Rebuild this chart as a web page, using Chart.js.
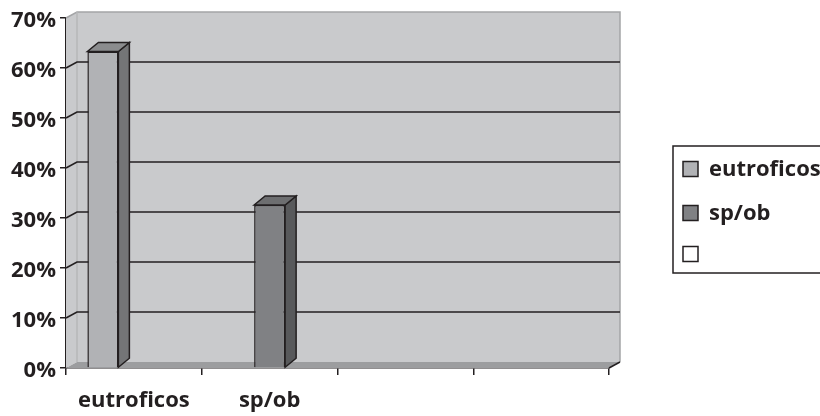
<!DOCTYPE html>
<html>
<head>
<meta charset="utf-8">
<script src="https://cdn.jsdelivr.net/npm/chart.js@4/dist/chart.umd.min.js"></script>
<style>
  html, body { margin: 0; padding: 0; background: #fff; overflow: hidden; }
  #wrap { width: 820px; height: 416px; position: relative; }
</style>
</head>
<body>
<div id="wrap"><canvas id="c" width="820" height="416"></canvas></div>
<script>
// Categories along the x axis (the last two are empty slots)
const categories = ['eutroficos', 'sp/ob', '', ''];
// Series names, as shown in the legend
const seriesNames = ['eutroficos', 'sp/ob', ''];
// Series values in percent
const eutroficosValues = [63.3, null, null, null];
const spobValues = [null, 32.6, null, null];
const blankValues = [null, null, null, null];
// Value axis ticks in percent
const yTickValues = [0, 10, 20, 30, 40, 50, 60, 70];

const INK = '#231f20';
const FONT = { family: '"Open Sans", "DejaVu Sans", sans-serif', size: 22, weight: 'bold' };

// Back wall, floor and the depth faces of the columns
const depth3d = {
  id: 'depth3d',
  beforeDatasetsDraw(chart, args, o) {
    const { ctx, chartArea: a, scales: { y } } = chart;
    const dx = o.wallDx, dy = o.wallDy;
    ctx.save();
    // left side wall
    ctx.fillStyle = o.wallColor;
    ctx.beginPath();
    ctx.moveTo(a.left, a.top);
    ctx.lineTo(a.left + dx, a.top + dy);
    ctx.lineTo(a.left + dx, a.bottom + dy);
    ctx.lineTo(a.left, a.bottom);
    ctx.closePath();
    ctx.fill();
    // back wall
    ctx.fillRect(a.left + dx, a.top + dy, a.right - a.left, a.bottom - a.top);
    // wall outline
    ctx.strokeStyle = o.edgeColor;
    ctx.lineWidth = 1.5;
    ctx.beginPath();
    ctx.moveTo(a.left, a.top);
    ctx.lineTo(a.left + dx, a.top + dy);
    ctx.lineTo(a.right + dx, a.top + dy);
    ctx.lineTo(a.right + dx, a.bottom + dy);
    ctx.stroke();
    ctx.strokeStyle = o.innerEdgeColor;
    ctx.beginPath();
    ctx.moveTo(a.left + dx, a.top + dy);
    ctx.lineTo(a.left + dx, a.bottom + dy);
    ctx.stroke();
    // floor
    ctx.fillStyle = o.floorColor;
    ctx.beginPath();
    ctx.moveTo(a.left, a.bottom);
    ctx.lineTo(a.left + dx, a.bottom + dy);
    ctx.lineTo(a.right + dx, a.bottom + dy);
    ctx.lineTo(a.right, a.bottom);
    ctx.closePath();
    ctx.fill();
    ctx.strokeStyle = INK;
    ctx.beginPath();
    ctx.moveTo(a.right, a.bottom);
    ctx.lineTo(a.right + dx, a.bottom + dy);
    ctx.stroke();
    // gridlines on the back wall, joined to the axis ticks
    ctx.strokeStyle = INK;
    ctx.lineWidth = 1.6;
    y.ticks.forEach(t => {
      if (t.value <= y.min || t.value >= y.max) return;
      const py = y.getPixelForValue(t.value);
      ctx.beginPath();
      ctx.moveTo(a.left, py);
      ctx.lineTo(a.left + dx, py + dy);
      ctx.lineTo(a.right + dx, py + dy);
      ctx.stroke();
    });
    ctx.restore();
  },
  afterDatasetsDraw(chart, args, o) {
    const { ctx } = chart;
    const bx = o.barDx, by = o.barDy;
    ctx.save();
    ctx.strokeStyle = INK;
    ctx.lineWidth = 1.5;
    ctx.lineJoin = 'miter';
    chart.data.datasets.forEach((ds, i) => {
      const meta = chart.getDatasetMeta(i);
      const face = o.faces[i];
      meta.data.forEach((el, j) => {
        if (ds.data[j] == null) return;
        const { x, y, base, width } = el.getProps(['x', 'y', 'base', 'width'], true);
        const l = x - width / 2, r = x + width / 2;
        // side face
        ctx.fillStyle = face.side;
        ctx.beginPath();
        ctx.moveTo(r, y);
        ctx.lineTo(r + bx, y + by);
        ctx.lineTo(r + bx, base + by);
        ctx.lineTo(r, base);
        ctx.closePath();
        ctx.fill();
        ctx.stroke();
        // top face
        ctx.fillStyle = face.top;
        ctx.beginPath();
        ctx.moveTo(l, y);
        ctx.lineTo(l + bx, y + by);
        ctx.lineTo(r + bx, y + by);
        ctx.lineTo(r, y);
        ctx.closePath();
        ctx.fill();
        ctx.stroke();
      });
    });
    ctx.restore();
  }
};

// Boxed legend at the right, partly running past the canvas edge
const boxLegend = {
  id: 'boxLegend',
  afterDraw(chart, args, o) {
    const { ctx } = chart;
    ctx.save();
    ctx.strokeStyle = INK;
    ctx.lineWidth = 1.5;
    ctx.strokeRect(o.left, o.top, o.width, o.height);
    ctx.font = `${FONT.weight} ${FONT.size}px ${FONT.family}`;
    ctx.textBaseline = 'middle';
    ctx.fillStyle = INK;
    chart.data.datasets.forEach((ds, i) => {
      const cy = o.rows[i];
      ctx.fillStyle = ds.backgroundColor;
      ctx.fillRect(o.swatchX, cy - o.swatch / 2, o.swatch, o.swatch);
      ctx.strokeRect(o.swatchX, cy - o.swatch / 2, o.swatch, o.swatch);
      ctx.fillStyle = INK;
      ctx.fillText(ds.label, o.textX, cy + 1);
    });
    ctx.restore();
  }
};

new Chart(document.getElementById('c'), {
  type: 'bar',
  data: {
    labels: categories,
    datasets: [
      { label: seriesNames[0], data: eutroficosValues, backgroundColor: '#b1b2b5' },
      { label: seriesNames[1], data: spobValues, backgroundColor: '#808184' },
      { label: seriesNames[2], data: blankValues, backgroundColor: '#ffffff' }
    ]
  },
  options: {
    responsive: false,
    animation: false,
    devicePixelRatio: 1,
    layout: { padding: { top: 18, right: 211, left: 0, bottom: 0 } },
    datasets: {
      bar: { borderColor: INK, borderWidth: 1.5, categoryPercentage: 0.685, barPercentage: 1.0 }
    },
    scales: {
      x: {
        grid: { offset: true, drawOnChartArea: false, drawTicks: true, tickLength: 7, color: INK, lineWidth: 1.5 },
        border: { display: true, color: INK, width: 1.5 },
        ticks: { color: INK, font: FONT, padding: 13, maxRotation: 0 },
        afterFit: s => { s.height = 48; }
      },
      y: {
        min: 0,
        max: 70,
        afterBuildTicks: s => { s.ticks = yTickValues.map(v => ({ value: v })); },
        grid: { drawOnChartArea: false, drawTicks: true, tickLength: 6, color: INK, lineWidth: 1.5 },
        border: { display: true, color: INK, width: 1.5 },
        ticks: { color: INK, font: FONT, padding: 4, labelOffset: 3, callback: v => v + '%' },
        afterFit: s => { s.width = 66; }
      }
    },
    plugins: {
      legend: { display: false },
      tooltip: { enabled: false },
      depth3d: {
        wallDx: 11, wallDy: -6, barDx: 11, barDy: -9,
        wallColor: '#c9cacc', floorColor: '#9c9d9f',
        edgeColor: '#a4a5a7', innerEdgeColor: '#b6b7b9',
        faces: [
          { side: '#747577', top: '#8b8c8e' },
          { side: '#58595b', top: '#6d6e70' },
          { side: '#d0d0d0', top: '#e8e8e8' }
        ]
      },
      boxLegend: {
        left: 673, top: 146, width: 170, height: 127,
        swatchX: 683, swatch: 15, textX: 709,
        rows: [169, 213, 254]
      }
    }
  },
  plugins: [depth3d, boxLegend]
});
</script>
</body>
</html>
